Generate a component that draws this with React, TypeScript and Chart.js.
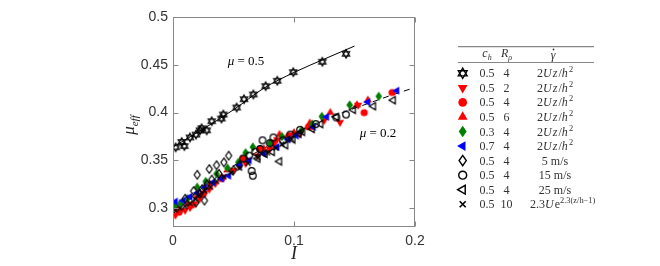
import { useEffect, useRef } from "react";
import { Chart, registerables } from "chart.js";

Chart.register(...registerables);

// ---------- axis ticks ----------
const xTicks = [0, 0.1, 0.2];
const xTickLabels = ["0", "0.1", "0.2"];
const yTicks = [0.3, 0.35, 0.4, 0.45, 0.5];
const yTickLabels = ["0.3", "0.35", "0.4", "0.45", "0.5"];

// ---------- fit curves ----------
const fit05I = [0, 0.025, 0.05, 0.075, 0.1, 0.125, 0.15];
const fit05Mu = [0.364, 0.383, 0.403, 0.4255, 0.442, 0.456, 0.4696];
const fit02I = [0, 0.02, 0.04, 0.06, 0.08, 0.1, 0.12, 0.14, 0.16, 0.18, 0.2];
const fit02Mu = [0.294, 0.317, 0.336, 0.352, 0.366, 0.378, 0.39, 0.4, 0.409, 0.418, 0.4263];

// ---------- series (I, mu_eff) ----------
const starPts: [number, number][] = [
  [0.0022, 0.3637], [0.0072, 0.3693], [0.0094, 0.365], [0.014, 0.374], [0.019, 0.377],
  [0.0223, 0.3815], [0.0237, 0.3836], [0.0278, 0.3815], [0.032, 0.391], [0.04, 0.3938],
  [0.0416, 0.398], [0.0526, 0.4053], [0.0587, 0.414], [0.0664, 0.419], [0.0766, 0.4277],
  [0.0862, 0.4333], [0.0994, 0.4423], [0.1234, 0.4532], [0.143, 0.4615],
];
const redDownPts: [number, number][] = [
  [0.002, 0.293], [0.006, 0.297], [0.01, 0.298], [0.014, 0.301], [0.018, 0.305],
  [0.022, 0.31], [0.026, 0.316], [0.03, 0.32], [0.035, 0.326], [0.042, 0.333],
  [0.05, 0.34], [0.06, 0.347], [0.07, 0.355], [0.08, 0.362], [0.086, 0.372],
  [0.095, 0.374], [0.105, 0.378], [0.115, 0.386], [0.125, 0.392], [0.138, 0.39], [0.153, 0.408],
];
const redCirclePts: [number, number][] = [
  [0.005, 0.296], [0.015, 0.303], [0.025, 0.315], [0.04, 0.331], [0.058, 0.352],
  [0.072, 0.362], [0.083, 0.368], [0.096, 0.376], [0.112, 0.385], [0.158, 0.4], [0.181, 0.421],
];
const redUpPts: [number, number][] = [
  [0.004, 0.3], [0.012, 0.305], [0.02, 0.313], [0.03, 0.325], [0.045, 0.34],
  [0.06, 0.352], [0.075, 0.362], [0.088, 0.377], [0.1, 0.379], [0.113, 0.389],
  [0.13, 0.4], [0.152, 0.408], [0.161, 0.413],
];
const greenDiamondPts: [number, number][] = [
  [0.002, 0.303], [0.006, 0.305], [0.012, 0.31], [0.02, 0.322], [0.027, 0.328],
  [0.036, 0.336], [0.045, 0.342], [0.054, 0.348], [0.06, 0.358], [0.066, 0.364],
  [0.08, 0.368], [0.09, 0.375], [0.106, 0.381], [0.115, 0.388], [0.123, 0.396],
  [0.146, 0.408], [0.17, 0.417],
];
const blueLeftPts: [number, number][] = [
  [0.002, 0.307], [0.0085, 0.308], [0.014, 0.312], [0.02, 0.316], [0.026, 0.322],
  [0.033, 0.327], [0.04, 0.331], [0.046, 0.334], [0.055, 0.345], [0.063, 0.35],
  [0.075, 0.357], [0.086, 0.364], [0.095, 0.372], [0.102, 0.376], [0.116, 0.385],
  [0.127, 0.3955], [0.161, 0.411], [0.185, 0.423],
];
const openDiamondPts: [number, number][] = [
  [0.01, 0.31], [0.017, 0.318], [0.019, 0.306], [0.02, 0.335], [0.022, 0.315],
  [0.024, 0.32], [0.026, 0.308], [0.028, 0.325], [0.03, 0.341], [0.032, 0.33],
  [0.036, 0.345], [0.038, 0.336], [0.042, 0.348], [0.046, 0.355], [0.05, 0.34], [0.055, 0.345],
];
const openCirclePts: [number, number][] = [
  [0.058, 0.352], [0.063, 0.355], [0.065, 0.339], [0.066, 0.334], [0.068, 0.359],
  [0.072, 0.362], [0.074, 0.371], [0.08, 0.368], [0.083, 0.374], [0.091, 0.371],
  [0.097, 0.377], [0.105, 0.382], [0.118, 0.388], [0.135, 0.395], [0.143, 0.398],
];
const openLeftPts: [number, number][] = [
  [0.07, 0.352], [0.076, 0.357], [0.082, 0.359], [0.088, 0.349], [0.093, 0.366],
  [0.099, 0.372], [0.104, 0.378], [0.107, 0.38], [0.115, 0.383], [0.122, 0.388],
  [0.135, 0.3955], [0.149, 0.403], [0.1656, 0.4067], [0.182, 0.413],
];
const crossPts: [number, number][] = [
  [0.002, 0.298], [0.006, 0.3], [0.01, 0.302], [0.014, 0.305], [0.018, 0.31],
  [0.022, 0.314], [0.026, 0.318], [0.031, 0.322], [0.036, 0.328], [0.042, 0.333],
  [0.048, 0.337], [0.055, 0.342], [0.062, 0.347], [0.07, 0.353], [0.078, 0.358],
  [0.085, 0.363], [0.09, 0.367], [0.098, 0.372],
];

// ---------- legend table ----------
const markerKinds = ["hex", "triDown", "circle", "triUp", "diamond", "triLeft", "diamondOpen", "circleOpen", "triLeftOpen", "cross"];
const legendCh = ["0.5", "0.5", "0.5", "0.5", "0.3", "0.7", "0.5", "0.5", "0.5", "0.5"];
const legendR = ["4", "2", "4", "6", "4", "4", "4", "4", "4", "10"];
const legendRate = ["2Uz/h^2", "2Uz/h^2", "2Uz/h^2", "2Uz/h^2", "2Uz/h^2", "2Uz/h^2", "5 m/s", "15 m/s", "25 m/s", "2.3Ue^2.3(z/h−1)"];
const annot05 = "0.5";
const annot02 = "0.2";

const RED = "#ff0000";
const GREEN = "#008000";
const BLUE = "#0000ff";

function drawMarker(ctx: CanvasRenderingContext2D, kind: string, x: number, y: number, s: number) {
  ctx.save();
  ctx.translate(x, y);
  ctx.lineJoin = "miter";
  const tri = (R: number, rot: number) => {
    ctx.beginPath();
    for (let k = 0; k < 3; k++) {
      const a = rot + (k * 2 * Math.PI) / 3;
      const px = Math.sin(a) * R;
      const py = -Math.cos(a) * R;
      if (k === 0) ctx.moveTo(px, py);
      else ctx.lineTo(px, py);
    }
    ctx.closePath();
  };
  const dia = (w: number, h: number) => {
    ctx.beginPath();
    ctx.moveTo(0, -h);
    ctx.lineTo(w, 0);
    ctx.lineTo(0, h);
    ctx.lineTo(-w, 0);
    ctx.closePath();
  };
  switch (kind) {
    case "hex": {
      ctx.strokeStyle = "#000";
      ctx.lineWidth = 1.1 * s;
      tri(4.3 * s, 0);
      ctx.stroke();
      tri(4.3 * s, Math.PI);
      ctx.stroke();
      break;
    }
    case "triDown":
      ctx.fillStyle = RED;
      tri(4.7 * s, Math.PI);
      ctx.fill();
      break;
    case "triUp":
      ctx.fillStyle = RED;
      tri(4.7 * s, 0);
      ctx.fill();
      break;
    case "circle":
      ctx.fillStyle = RED;
      ctx.beginPath();
      ctx.arc(0, 0, 3.6 * s, 0, Math.PI * 2);
      ctx.fill();
      break;
    case "diamond":
      ctx.fillStyle = GREEN;
      dia(3.3 * s, 4.8 * s);
      ctx.fill();
      break;
    case "triLeft":
      ctx.fillStyle = BLUE;
      tri(4.7 * s, -Math.PI / 2);
      ctx.fill();
      break;
    case "diamondOpen":
      ctx.strokeStyle = "#000";
      ctx.lineWidth = 1.2 * s;
      dia(3 * s, 4.3 * s);
      ctx.stroke();
      break;
    case "circleOpen":
      ctx.strokeStyle = "#000";
      ctx.lineWidth = 1.2 * s;
      ctx.beginPath();
      ctx.arc(0, 0, 3.3 * s, 0, Math.PI * 2);
      ctx.stroke();
      break;
    case "triLeftOpen":
      ctx.strokeStyle = "#000";
      ctx.lineWidth = 1.2 * s;
      tri(4.2 * s, -Math.PI / 2);
      ctx.stroke();
      break;
    case "cross": {
      ctx.strokeStyle = "#000";
      ctx.lineWidth = 1.4 * s;
      const c = 2.5 * s;
      ctx.beginPath();
      ctx.moveTo(-c, -c);
      ctx.lineTo(c, c);
      ctx.moveTo(c, -c);
      ctx.lineTo(-c, c);
      ctx.stroke();
      break;
    }
  }
  ctx.restore();
}

function makeMarkerCanvas(kind: string, s: number) {
  const c = document.createElement("canvas");
  c.width = 16;
  c.height = 16;
  const cx = c.getContext("2d")!;
  drawMarker(cx, kind, 8, 8, s);
  return c;
}

type Seg = { t: string; it?: boolean; sz: number; dy?: number; ls?: number };
const SERIF = '"Liberation Serif", "DejaVu Serif", serif';
function segFont(sg: Seg) {
  return `${sg.it ? "italic " : ""}${sg.sz}px ${SERIF}`;
}
function segWidth(ctx: CanvasRenderingContext2D, sg: Seg) {
  ctx.font = segFont(sg);
  if (!sg.ls) return ctx.measureText(sg.t).width;
  let w = 0;
  for (const ch of sg.t) w += ctx.measureText(ch).width + sg.ls;
  return w;
}
function richWidth(ctx: CanvasRenderingContext2D, segs: Seg[]) {
  let w = 0;
  for (const sg of segs) w += segWidth(ctx, sg);
  return w;
}
function drawRich(ctx: CanvasRenderingContext2D, segs: Seg[], x: number, y: number, align: "left" | "center") {
  let cx = align === "center" ? x - richWidth(ctx, segs) / 2 : x;
  ctx.textAlign = "left";
  ctx.textBaseline = "alphabetic";
  for (const sg of segs) {
    ctx.font = segFont(sg);
    if (sg.ls) {
      for (const ch of sg.t) {
        ctx.fillText(ch, cx, y + (sg.dy || 0));
        cx += ctx.measureText(ch).width + sg.ls;
      }
    } else {
      ctx.fillText(sg.t, cx, y + (sg.dy || 0));
      cx += ctx.measureText(sg.t).width;
    }
  }
}
function mathSegs(str: string, sz: number): Seg[] {
  const segs: Seg[] = [];
  const [base, exp] = str.split("^");
  const unit = base.includes("m/s");
  for (const ch of base) {
    const it = !unit && /[A-Za-z]/.test(ch) && ch !== "e";
    const last = segs[segs.length - 1];
    if (last && !!last.it === it && last.sz === sz) last.t += ch;
    else segs.push({ t: ch, it, sz, ls: it ? 1.1 : 0 });
  }
  if (exp) segs.push({ t: exp, sz: sz * 0.7, dy: -5 });
  return segs;
}

const decoPlugin = {
  id: "deco",
  afterDraw(chart: any) {
    const { ctx, chartArea: a, scales } = chart;
    const xs = scales.x;
    const ys = scales.y;
    ctx.save();
    // box
    ctx.strokeStyle = "#888";
    ctx.lineWidth = 1;
    const L = Math.round(a.left) + 0.5;
    const R = Math.round(a.right) - 0.5;
    const T = Math.round(a.top) + 0.5;
    const B = Math.round(a.bottom) - 0.5;
    ctx.strokeRect(L, T, R - L, B - T);
    ctx.beginPath();
    const tl = 5;
    for (const v of yTicks) {
      const py = Math.round(ys.getPixelForValue(v)) + 0.5;
      ctx.moveTo(L, py);
      ctx.lineTo(L + tl, py);
      ctx.moveTo(R, py);
      ctx.lineTo(R - tl, py);
    }
    for (const v of xTicks) {
      const px = Math.round(xs.getPixelForValue(v)) + 0.5;
      ctx.moveTo(px, T);
      ctx.lineTo(px, T + tl);
      ctx.moveTo(px, B);
      ctx.lineTo(px, B - tl);
    }
    ctx.stroke();

    // axis titles
    ctx.fillStyle = "#222";
    ctx.save();
    ctx.translate(134, 125);
    ctx.rotate(-Math.PI / 2);
    drawRich(ctx, [{ t: "μ", it: true, sz: 17 }, { t: "eff", it: true, sz: 11, dy: 4 }], 0, 0, "center");
    ctx.restore();
    drawRich(ctx, [{ t: "I", it: true, sz: 18 }], 294, 259, "center");

    // annotations
    ctx.fillStyle = "#000";
    drawRich(ctx, [{ t: "μ", it: true, sz: 13 }, { t: " = " + annot05, sz: 13 }], 246, 65, "center");
    drawRich(ctx, [{ t: "μ", it: true, sz: 13 }, { t: " = " + annot02, sz: 13 }], 378, 137, "center");

    // legend table
    const lx0 = 458, lx1 = 594;
    ctx.strokeStyle = "#888";
    ctx.lineWidth = 1.3;
    ctx.beginPath();
    ctx.moveTo(lx0, 46.7);
    ctx.lineTo(lx1, 46.7);
    ctx.stroke();
    ctx.lineWidth = 1;
    ctx.beginPath();
    ctx.moveTo(lx0, 62.5);
    ctx.lineTo(lx1, 62.5);
    ctx.stroke();

    ctx.fillStyle = "#333";
    const colCh = 487, colR = 506.5, colRate = 555;
    drawRich(ctx, [{ t: "c", it: true, sz: 12 }, { t: "h", it: true, sz: 8, dy: 2.5 }], colCh, 57, "center");
    drawRich(ctx, [{ t: "R", it: true, sz: 12 }, { t: "ρ", it: true, sz: 8, dy: 2.5 }], colR, 57, "center");
    drawRich(ctx, [{ t: "γ", it: true, sz: 12 }], colRate - 2, 59, "center");
    ctx.beginPath();
    ctx.arc(colRate - 1.5, 49.5, 0.9, 0, Math.PI * 2);
    ctx.fill();

    const rowY0 = 73.3, step = 14.55;
    for (let i = 0; i < markerKinds.length; i++) {
      const cy = rowY0 + i * step;
      drawMarker(ctx, markerKinds[i], 462.7, cy, 1.2);
      ctx.fillStyle = "#333";
      drawRich(ctx, [{ t: legendCh[i], sz: 12 }], colCh, cy + 4, "center");
      drawRich(ctx, [{ t: legendR[i], sz: 12 }], colR, cy + 4, "center");
      const segs = mathSegs(legendRate[i], 12);
      if (legendRate[i].includes("(")) drawRich(ctx, segs, 530, cy + 4, "left");
      else drawRich(ctx, segs, colRate, cy + 4, "center");
    }
    ctx.restore();
  },
};

export default function App() {
  const ref = useRef<HTMLCanvasElement>(null);
  useEffect(() => {
    if (!ref.current) return;
    const toXY = (p: [number, number][]) => p.map(([x, y]) => ({ x, y }));
    const series: { pts: [number, number][]; kind: string }[] = [
      { pts: starPts, kind: "hex" },
      { pts: redDownPts, kind: "triDown" },
      { pts: redCirclePts, kind: "circle" },
      { pts: redUpPts, kind: "triUp" },
      { pts: greenDiamondPts, kind: "diamond" },
      { pts: blueLeftPts, kind: "triLeft" },
      { pts: openDiamondPts, kind: "diamondOpen" },
      { pts: openCirclePts, kind: "circleOpen" },
      { pts: openLeftPts, kind: "triLeftOpen" },
      { pts: crossPts, kind: "cross" },
    ];
    const datasets: any[] = series.map((s, i) => ({
      label: s.kind,
      data: toXY(s.pts),
      pointStyle: makeMarkerCanvas(s.kind, 1),
      pointRadius: 4,
      showLine: false,
      order: 100 - i,
    }));
    datasets.push({
      label: "fit05",
      data: fit05I.map((x, i) => ({ x, y: fit05Mu[i] })),
      showLine: true,
      pointRadius: 0,
      borderColor: "#000",
      borderWidth: 1,
      cubicInterpolationMode: "monotone",
      order: 200,
    });
    datasets.push({
      label: "fit02",
      data: fit02I.map((x, i) => ({ x, y: fit02Mu[i] })),
      showLine: true,
      pointRadius: 0,
      borderColor: "#000",
      borderWidth: 1,
      borderDash: [6, 5],
      cubicInterpolationMode: "monotone",
      order: 200,
    });
    const tickFont = { family: '"Liberation Sans", Arial, sans-serif', size: 14 };
    const chart = new Chart(ref.current, {
      type: "scatter",
      data: { datasets },
      plugins: [decoPlugin],
      options: {
        animation: false,
        responsive: false,
        devicePixelRatio: 1,
        layout: { padding: { left: 0, right: 245, top: 17, bottom: 0 } },
        plugins: { legend: { display: false }, tooltip: { enabled: false } },
        scales: {
          x: {
            type: "linear",
            min: 0,
            max: 0.2,
            afterBuildTicks: (s: any) => {
              s.ticks = xTicks.map((v) => ({ value: v }));
            },
            afterFit: (s: any) => {
              s.height = 39;
            },
            ticks: {
              callback: (v: any) => xTickLabels[xTicks.findIndex((t) => Math.abs(t - v) < 1e-9)],
              font: tickFont,
              color: "#333",
              padding: 6,
              maxRotation: 0,
              autoSkip: false,
            },
            grid: { display: false, drawTicks: false },
            border: { display: false },
          },
          y: {
            type: "linear",
            min: 0.2804,
            max: 0.5,
            afterBuildTicks: (s: any) => {
              s.ticks = yTicks.map((v) => ({ value: v }));
            },
            afterFit: (s: any) => {
              s.width = 173;
            },
            ticks: {
              callback: (v: any) => yTickLabels[yTicks.findIndex((t) => Math.abs(t - v) < 1e-9)],
              font: tickFont,
              color: "#333",
              padding: 5,
              autoSkip: false,
            },
            grid: { display: false, drawTicks: false },
            border: { display: false },
          },
        },
      } as any,
    });
    return () => chart.destroy();
  }, []);
  return (
    <div style={{ position: "absolute", left: 0, top: 0, width: 660, height: 266, background: "#fff" }}>
      <canvas ref={ref} width={660} height={266} style={{ display: "block" }} />
    </div>
  );
}
